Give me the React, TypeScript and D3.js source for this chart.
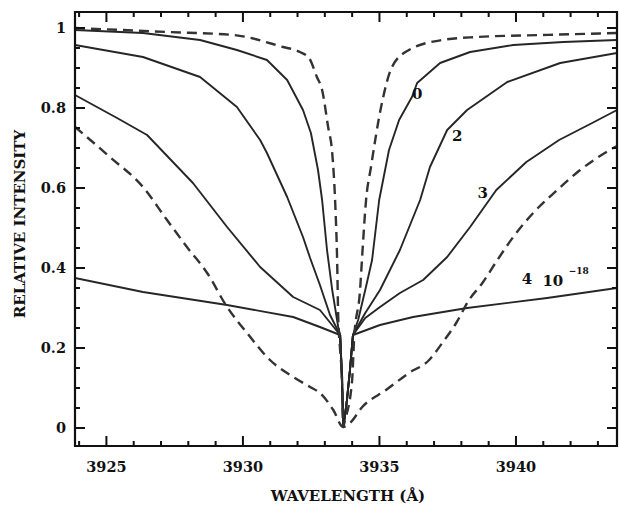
import React from 'react';
import * as d3 from 'd3';

// ---- data (wavelength in Å, relative intensity) ----
const xMajorTicks = [3925, 3930, 3935, 3940];
const xTickLabels = ['3925', '3930', '3935', '3940'];
const yMajorTicks = [0, 0.2, 0.4, 0.6, 0.8, 1];
const yTickLabels = ['0', '0.2', '0.4', '0.6', '0.8', '1'];

// shared line core (below the junction of the solid curves)
const coreWl = [3933.60, 3933.64, 3933.67, 3933.74, 3933.81, 3933.92];
const coreI = [0.17, 0.095, 0.0025, 0.0325, 0.07, 0.145];

// solid curve "0"
const s0LeftWl = [3923.85, 3926.34, 3928.43, 3929.78, 3930.88, 3931.62, 3932.20, 3932.49, 3932.75, 3932.90, 3933.08, 3933.27, 3933.49, 3933.56];
const s0LeftI = [0.995, 0.9875, 0.97, 0.945, 0.92, 0.87, 0.795, 0.7375, 0.645, 0.57, 0.445, 0.345, 0.2525, 0.2325];
const s0RightWl = [3934.03, 3934.22, 3934.48, 3934.73, 3934.99, 3935.35, 3935.72, 3936.19, 3936.38, 3937.22, 3938.32, 3939.90, 3941.73, 3943.70];
const s0RightI = [0.2325, 0.27, 0.345, 0.42, 0.57, 0.695, 0.77, 0.8275, 0.8625, 0.9125, 0.94, 0.9575, 0.965, 0.97];

// solid curve "2"
const s2LeftWl = [3923.85, 3926.34, 3928.43, 3929.78, 3930.63, 3930.88, 3931.62, 3932.20, 3932.46, 3932.82, 3933.19, 3933.56];
const s2LeftI = [0.9575, 0.9275, 0.8775, 0.8025, 0.72, 0.6875, 0.5775, 0.4775, 0.425, 0.3575, 0.2825, 0.2325];
const s2RightWl = [3934.03, 3934.48, 3935.02, 3935.75, 3936.49, 3936.85, 3937.48, 3938.21, 3939.68, 3941.62, 3943.70];
const s2RightI = [0.2325, 0.2875, 0.345, 0.445, 0.57, 0.6525, 0.745, 0.795, 0.865, 0.9125, 0.9375];

// solid curve "3"
const s3LeftWl = [3923.85, 3925.39, 3926.49, 3928.17, 3929.42, 3930.63, 3931.84, 3932.82, 3933.56];
const s3LeftI = [0.8325, 0.775, 0.7325, 0.6125, 0.5025, 0.4025, 0.3275, 0.295, 0.2325];
const s3RightWl = [3934.03, 3934.48, 3935.02, 3935.75, 3936.60, 3937.48, 3938.32, 3939.28, 3940.38, 3941.58, 3942.79, 3943.70];
const s3RightI = [0.2325, 0.275, 0.3025, 0.3375, 0.37, 0.4275, 0.5025, 0.595, 0.665, 0.72, 0.7625, 0.795];

// solid curve "4 10^-18"
const s4LeftWl = [3923.85, 3926.34, 3929.42, 3931.84, 3932.82, 3933.56];
const s4LeftI = [0.375, 0.34, 0.3075, 0.2775, 0.2525, 0.2325];
const s4RightWl = [3934.03, 3935.02, 3936.23, 3938.21, 3941.14, 3943.70];
const s4RightI = [0.2325, 0.2575, 0.2775, 0.30, 0.325, 0.35];

// narrow dashed profile
const dNarrowWl = [3923.85, 3927.22, 3929.64, 3931.47, 3932.09, 3932.42, 3932.71, 3932.90, 3933.12, 3933.27, 3933.38, 3933.45, 3933.49, 3933.56, 3933.64, 3933.67, 3933.74, 3934.00, 3934.07, 3934.29, 3934.37, 3934.51, 3934.69, 3935.06, 3935.46, 3936.08, 3937.30, 3938.55, 3940.97, 3943.70];
const dNarrowI = [1.0, 0.99, 0.9825, 0.9525, 0.94, 0.925, 0.8775, 0.845, 0.7525, 0.6875, 0.5625, 0.42, 0.2775, 0.195, 0.1025, 0.0025, 0.02, 0.12, 0.22, 0.345, 0.4325, 0.57, 0.6525, 0.8025, 0.9025, 0.945, 0.97, 0.9775, 0.9825, 0.9875];

// wide dashed profile
const dWideWl = [3923.85, 3925.13, 3926.34, 3927.22, 3927.95, 3928.69, 3929.42, 3930.15, 3930.99, 3931.84, 3932.46, 3932.82, 3933.31, 3933.67, 3933.92, 3934.37, 3935.24, 3936.08, 3936.82, 3937.30, 3937.81, 3938.28, 3938.77, 3939.32, 3939.90, 3940.63, 3941.51, 3942.35, 3943.44, 3943.70];
const dWideI = [0.7525, 0.6775, 0.6025, 0.52, 0.4525, 0.3875, 0.3025, 0.2375, 0.17, 0.1275, 0.1025, 0.0875, 0.045, 0.0025, 0.0125, 0.0525, 0.095, 0.1375, 0.17, 0.2125, 0.2625, 0.32, 0.3625, 0.42, 0.4775, 0.5375, 0.595, 0.645, 0.695, 0.705];

type Pt = [number, number];
const zip = (wl: number[], iv: number[]): Pt[] => wl.map((w, i) => [w, iv[i]]);
const solid = (lw: number[], li: number[], rw: number[], ri: number[]): Pt[] =>
  [...zip(lw, li), ...zip(coreWl, coreI), ...zip(rw, ri)];

const solidCurves: Pt[][] = [
  solid(s0LeftWl, s0LeftI, s0RightWl, s0RightI),
  solid(s2LeftWl, s2LeftI, s2RightWl, s2RightI),
  solid(s3LeftWl, s3LeftI, s3RightWl, s3RightI),
  solid(s4LeftWl, s4LeftI, s4RightWl, s4RightI),
];
const dashedCurves: Pt[][] = [zip(dNarrowWl, dNarrowI), zip(dWideWl, dWideI)];

const W = 619;
const H = 510;
const X0 = 3923.85, X1 = 3943.7;
const Y0 = -0.045, Y1 = 1.04;

export default function App() {
  const x = d3.scaleLinear().domain([X0, X1]).range([75, 617]);
  const y = d3.scaleLinear().domain([Y0, Y1]).range([446, 12]);
  const lineSolid = d3.line<Pt>().x(d => x(d[0])).y(d => y(d[1])).curve(d3.curveLinear);
  const lineDash = d3.line<Pt>().x(d => x(d[0])).y(d => y(d[1])).curve(d3.curveMonotoneX);

  const xMinor = d3.range(Math.ceil(X0), X1, 1).filter(v => !xMajorTicks.includes(v));
  const yMinor = d3.range(0, 1.0001, 0.05).map(v => +v.toFixed(2)).filter(v => !yMajorTicks.some(m => Math.abs(m - v) < 1e-6));
  const left = Math.round(x(X0)), right = Math.round(x(X1)), top = Math.round(y(Y1)), bottom = Math.round(y(Y0));
  const ink = '#111';
  const font = "'DejaVu Serif', serif";
  const majL = 10, minL = 5, tw = 2;

  type R = { x: number; y: number; w: number; h: number };
  const tickRects: R[] = [];
  const vt = (px: number, len: number) => {
    tickRects.push({ x: px - tw / 2, y: bottom - len, w: tw, h: len });
    tickRects.push({ x: px - tw / 2, y: top, w: tw, h: len });
  };
  const ht = (py: number, len: number) => {
    tickRects.push({ x: left, y: py - tw / 2, w: len, h: tw });
    tickRects.push({ x: right - len, y: py - tw / 2, w: len, h: tw });
  };
  xMajorTicks.forEach(t => vt(x(t), majL));
  xMinor.forEach(t => vt(x(t), minL));
  yMajorTicks.forEach(t => ht(y(t), majL));
  yMinor.forEach(t => ht(y(t), minL));

  const frameD = `M${left},${top}L${right},${top}L${right},${bottom}L${left},${bottom}Z`;

  return (
    <svg width={W} height={H} style={{ position: 'absolute', left: 0, top: 0 }}>
      <rect x={0} y={0} width={W} height={H} fill="#fff" />
      <defs>
        <clipPath id="plotclip">
          <rect x={left} y={top} width={right - left} height={bottom - top} />
        </clipPath>
      </defs>
      <g clipPath="url(#plotclip)">
        {solidCurves.map((c, i) => (
          <path key={'s' + i} d={lineSolid(c) || ''} fill="none" stroke="#262626" strokeWidth={1.9} strokeLinejoin="round" />
        ))}
        {dashedCurves.map((c, i) => (
          <path key={'d' + i} d={lineDash(c) || ''} fill="none" stroke="#333333" strokeWidth={2.4} strokeDasharray="10,6" />
        ))}
      </g>
      {/* frame */}
      <path d={frameD} fill="none" stroke={ink} strokeWidth={2.2} />
      {/* ticks */}
      {tickRects.map((r, i) => (
        <rect key={'tk' + i} x={r.x} y={r.y} width={r.w} height={r.h} fill={ink} />
      ))}
      {/* tick labels */}
      {xMajorTicks.map((t, i) => (
        <text key={'xl' + t} x={x(t)} y={472} textAnchor="middle" fontFamily={font} fontWeight="bold" fontSize={14.5} fill={ink}>{xTickLabels[i]}</text>
      ))}
      {yMajorTicks.map((t, i) => (
        <text key={'yl' + t} x={left - 9} y={y(t)} dy="0.35em" textAnchor="end" fontFamily={font} fontWeight="bold" fontSize={14.5} fill={ink}>{yTickLabels[i]}</text>
      ))}
      {/* axis titles */}
      <text x={348} y={501} textAnchor="middle" fontFamily={font} fontWeight="bold" fontSize={15} fill={ink}>WAVELENGTH (Å)</text>
      <text transform="translate(25,224) rotate(-90)" textAnchor="middle" fontFamily={font} fontWeight="bold" fontSize={15} fill={ink}>RELATIVE INTENSITY</text>
      {/* curve labels */}
      <g fontFamily={font} fontWeight="bold" fontSize={15} fill={ink} textAnchor="middle">
        <text x={x(3936.38)} y={y(0.835)} dy="0.35em">0</text>
        <text x={x(3937.85)} y={y(0.73)} dy="0.35em">2</text>
        <text x={x(3938.78)} y={y(0.588)} dy="0.35em">3</text>
        <text x={x(3940.4)} y={y(0.3725)} dy="0.35em">4</text>
        <text x={x(3941.35)} y={y(0.367)} dy="0.35em">10</text>
        <text x={x(3942.3)} y={y(0.392)} dy="0.35em" fontSize={9}>−18</text>
      </g>
    </svg>
  );
}
